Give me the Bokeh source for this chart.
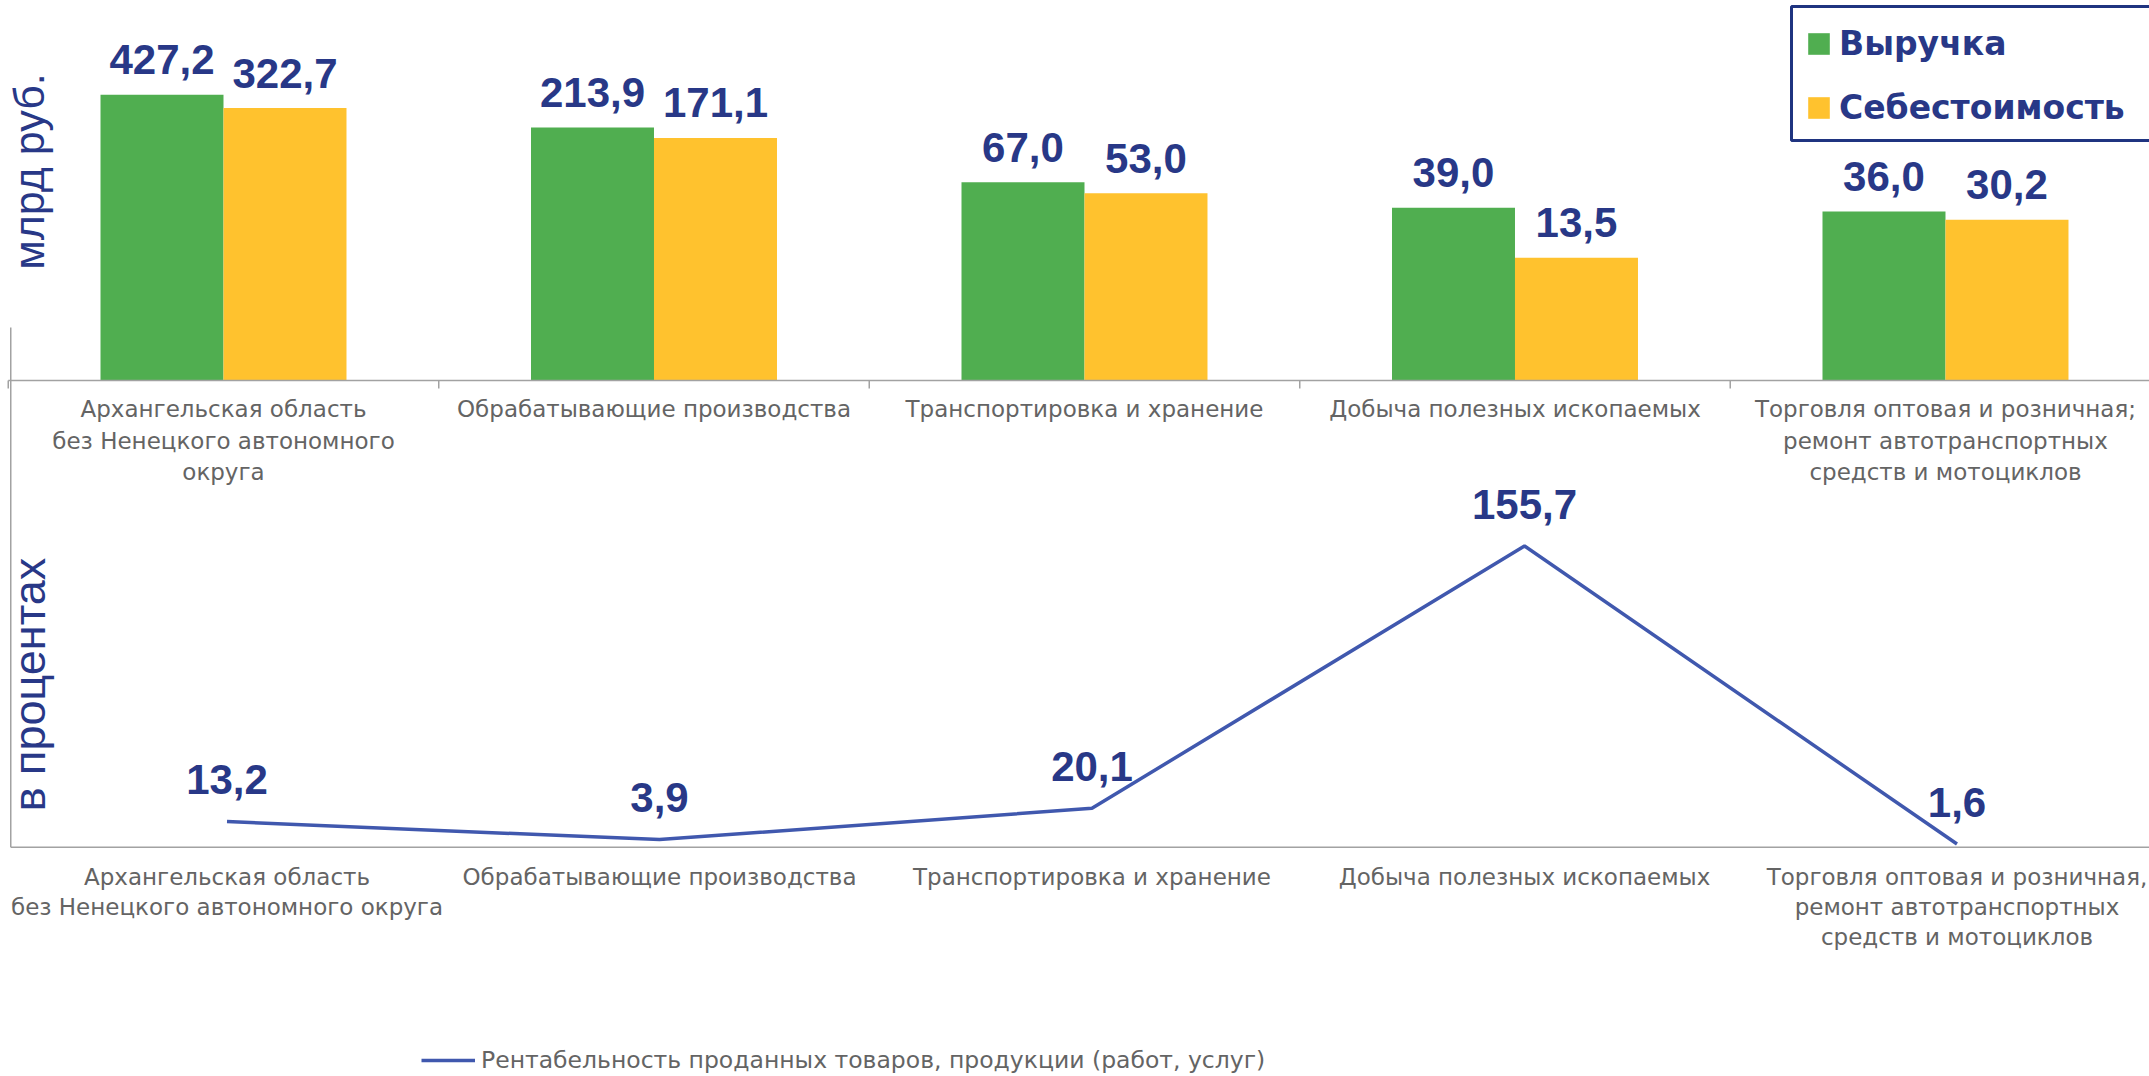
import math
from bokeh.plotting import figure
from bokeh.models import (Range1d, LinearScale, Legend, LegendItem, Label,
                          ColumnDataSource, BoxAnnotation)
from bokeh.transform import dodge
from bokeh.core.properties import value
from bokeh.embed import file_html
from bokeh.resources import INLINE

# ---------------- data ----------------
categories_top = [
    "Архангельская область\nбез Ненецкого автономного\nокруга",
    "Обрабатывающие производства",
    "Транспортировка и хранение",
    "Добыча полезных ископаемых",
    "Торговля оптовая и розничная;\nремонт автотранспортных\nсредств и мотоциклов",
]
categories_bottom = [
    "Архангельская область\nбез Ненецкого автономного округа",
    "Обрабатывающие производства",
    "Транспортировка и хранение",
    "Добыча полезных ископаемых",
    "Торговля оптовая и розничная,\nремонт автотранспортных\nсредств и мотоциклов",
]
revenue = [427.2, 213.9, 67.0, 39.0, 36.0]
cost = [322.7, 171.1, 53.0, 13.5, 30.2]
profitability = [13.2, 3.9, 20.1, 155.7, 1.6]
series_names = ["Выручка", "Себестоимость"]
line_name = "Рентабельность проданных товаров, продукции (работ, услуг)"
title_top = "млрд руб."
title_bottom = "в процентах"


def fmt(v):
    return f"{v:.1f}".replace(".", ",")


# ---------------- styles ----------------
GREEN = "#50AE50"
YELLOW = "#FFC22E"
NAVY = "#283887"
BORDER = "#1F3480"
BLUE = "#4058AE"
GRAY_TXT = "#646464"
AXIS = "#A2A2A2"

W, H = 2149, 1076

n = len(revenue)
centers = [i + 0.5 for i in range(n)]
bounds = list(range(n + 1))

top_src = ColumnDataSource(dict(
    xc=centers, rev=revenue, cost=cost,
    rev_lbl=[fmt(v) for v in revenue], cost_lbl=[fmt(v) for v in cost],
    cat=categories_top,
))
bot_src = ColumnDataSource(dict(
    xc=centers, val=profitability, lbl=[fmt(v) for v in profitability],
    cat=categories_bottom,
))

p = figure(width=W, height=H, output_backend="svg", toolbar_location=None,
           x_range=Range1d(-0.0180, 4.9739),
           y_range=Range1d(10 ** -6.409, 10 ** 3.499),
           y_axis_type="log",
           x_axis_location=None, y_axis_location=None,
           min_border=0, outline_line_color=None,
           background_fill_color="white", border_fill_color="white")
p.grid.visible = False

p.extra_x_ranges = {"bx": Range1d(-0.0237, 4.9451)}
p.extra_y_ranges = {"by": Range1d(-118.6, 437.8)}
p.extra_y_scales = {"by": LinearScale()}

# ---------------- top chart ----------------
bw = 0.2857
g_r = p.vbar(x=dodge("xc", -bw / 2), width=bw, bottom=1, top="rev",
             source=top_src, fill_color=GREEN, line_color=None)
y_r = p.vbar(x=dodge("xc", bw / 2), width=bw, bottom=1, top="cost",
             source=top_src, fill_color=YELLOW, line_color=None)

val_font = dict(text_font=value("Liberation Sans"), text_font_style="bold",
                text_font_size="42px", text_color=NAVY,
                text_align="center", text_baseline="alphabetic")
p.text(x=dodge("xc", -bw / 2), y="rev", text="rev_lbl", source=top_src,
       y_offset=-35, **val_font)
p.text(x=dodge("xc", bw / 2), y="cost", text="cost_lbl", source=top_src,
       y_offset=-35, **val_font)

p.ray(x=0, y=1, length=0, angle=0, line_color=AXIS, line_width=1.5)
p.ray(x=bounds, y=[1] * len(bounds), length=8, length_units="screen",
      angle=-math.pi / 2, line_color=AXIS, line_width=1.5)

cat_font = dict(text_font=value("DejaVu Sans"), text_font_size="23px",
                text_color=GRAY_TXT, text_align="center", text_baseline="top")
p.text(x="xc", y=1, text="cat", source=top_src, y_offset=16,
       text_line_height=1.2, **cat_font)

# ---------------- bottom chart ----------------
p.ray(x=0, y=0, length=0, angle=0, line_color=AXIS, line_width=1.5,
      x_range_name="bx", y_range_name="by")
p.segment(x0=0, y0=0, x1=0, y1=268.7, line_color=AXIS, line_width=1.5,
          x_range_name="bx", y_range_name="by")

l_r = p.line("xc", "val", source=bot_src, line_color=BLUE, line_width=3.5,
             x_range_name="bx", y_range_name="by")
p.text(x="xc", y="val", text="lbl", source=bot_src, y_offset=-42,
       x_range_name="bx", y_range_name="by", **val_font)
p.text(x="xc", y=0, text="cat", source=bot_src, y_offset=17,
       text_line_height=1.15, x_range_name="bx", y_range_name="by", **cat_font)

# ---------------- axis titles ----------------
p.add_layout(Label(x=28.5, y=905, x_units="screen", y_units="screen",
                   text=title_top, angle=90, angle_units="deg",
                   text_align="center", text_baseline="alphabetic",
                   text_font="Liberation Sans", text_font_size="43px",
                   text_color=NAVY))
p.add_layout(Label(x=28.5, y=392, x_units="screen", y_units="screen",
                   text=title_bottom, angle=90, angle_units="deg",
                   text_align="center", text_baseline="alphabetic",
                   text_font="Liberation Sans", text_font_size="45px",
                   text_color=NAVY))

# ---------------- legends ----------------
# legend frame, running past the right edge as in the original
p.add_layout(BoxAnnotation(left=1791, right=2240, top=1070, bottom=936,
                           left_units="screen", right_units="screen",
                           top_units="screen", bottom_units="screen",
                           fill_alpha=0, line_color=BORDER, line_width=3,
                           line_alpha=1))

leg = Legend(items=[LegendItem(label=series_names[0], renderers=[g_r]),
                    LegendItem(label=series_names[1], renderers=[y_r])],
             location=(1790, 934), orientation="vertical",
             glyph_width=27, glyph_height=27, label_standoff=7,
             padding=15, spacing=24, label_height=40, margin=0,
             border_line_color=BORDER, border_line_alpha=0,
             background_fill_alpha=0,
             label_text_font="DejaVu Sans", label_text_font_style="bold",
             label_text_font_size="33px", label_text_color=NAVY)
p.add_layout(leg)

leg2 = Legend(items=[LegendItem(label=line_name, renderers=[l_r])],
              location=(421, 2), orientation="horizontal",
              glyph_width=54, glyph_height=20, label_standoff=6,
              padding=0, margin=0, label_height=26,
              border_line_color=None, background_fill_alpha=0,
              label_text_font="DejaVu Sans", label_text_font_size="23.5px",
              label_text_color=GRAY_TXT)
p.add_layout(leg2)

open("out.html", "w").write(file_html(p, INLINE))
